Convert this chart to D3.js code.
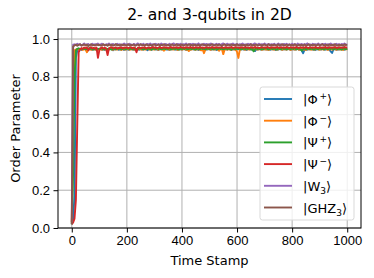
<!DOCTYPE html>
<html lang="en">
<head>
<meta charset="UTF-8">
<title>order parameter</title>
<script src="https://cdn.jsdelivr.net/npm/d3@7"></script>
<style>
	body { margin: 0; background: #fff; }
	svg { font-family: "DejaVu Sans", sans-serif; }
	.grid line { stroke: #b0b0b0; stroke-width: 1; }
	.axis line { stroke: #000; stroke-width: 1; }
	.axis text { font-size: 13px; fill: #000; }
</style>
</head>
<body>
<div id="viz"></div>
<script>
// time stamps sampled every 5 steps
var steps = d3.range(0, 1001, 5);

var phiPlus = [.02,.05,.17,.90,.94,.945,.948,.942,.946,.95,.944,.947,.941,.949,.945,.943,.948,.946,.94,.947,
	.945,.949,.943,.946,.942,.948,.945,.944,.95,.946,.941,.947,.945,.948,.943,.946,.944,.949,.942,.946,
	.947,.943,.945,.949,.944,.946,.942,.948,.945,.943,.947,.946,.944,.95,.945,.941,.947,.946,.943,.948,
	.945,.947,.944,.942,.948,.946,.945,.943,.949,.944,.946,.942,.947,.945,.948,.944,.946,.943,.947,.945,
	.944,.948,.946,.942,.947,.945,.943,.949,.946,.944,.947,.945,.942,.948,.946,.943,.945,.947,.944,.946,
	.948,.943,.946,.945,.947,.942,.946,.944,.948,.945,.943,.947,.946,.944,.949,.945,.942,.946,.947,.944,
	.946,.948,.943,.945,.947,.944,.946,.942,.948,.945,.946,.943,.947,.936,.946,.944,.948,.945,.943,.947,
	.945,.946,.944,.948,.943,.946,.945,.947,.942,.946,.944,.948,.945,.943,.947,.946,.944,.949,.945,.943,
	.946,.947,.944,.945,.948,.943,.946,.938,.925,.944,.946,.943,.947,.945,.948,.944,.946,.942,.947,.945,
	.946,.944,.948,.945,.943,.947,.946,.944,.935,.926,.945,.947,.943,.946,.944,.948,.945,.946,.943,.947,
	.948];

var phiMinus = [.03,.60,.94,.945,.947,.943,.948,.946,.942,.947,.944,.93,.946,.948,.943,.945,.947,.944,.946,.942,
	.948,.945,.943,.947,.946,.944,.937,.946,.948,.945,.943,.947,.946,.944,.948,.945,.942,.946,.947,.944,
	.946,.948,.943,.945,.947,.944,.946,.942,.948,.945,.946,.943,.947,.944,.946,.948,.945,.943,.947,.946,
	.944,.948,.945,.943,.947,.946,.944,.938,.946,.948,.945,.943,.947,.946,.944,.948,.945,.942,.946,.947,
	.944,.946,.948,.943,.945,.936,.946,.944,.948,.945,.943,.947,.946,.944,.94,.945,.925,.944,.946,.948,
	.945,.943,.947,.946,.944,.948,.945,.938,.946,.947,.92,.945,.946,.944,.948,.943,.945,.947,.944,.946,
	.932,.90,.944,.946,.948,.945,.943,.947,.946,.944,.948,.945,.942,.946,.947,.944,.946,.948,.943,.945,
	.947,.944,.946,.942,.948,.945,.946,.943,.947,.944,.946,.948,.945,.943,.947,.946,.944,.948,.945,.942,
	.946,.947,.944,.946,.948,.943,.945,.947,.944,.946,.942,.948,.945,.946,.943,.947,.944,.946,.948,.945,
	.943,.947,.946,.944,.948,.945,.942,.946,.947,.944,.946,.948,.943,.945,.947,.944,.946,.942,.948,.945,
	.946];

var psiPlus = [.02,.30,.80,.94,.948,.951,.946,.949,.947,.95,.945,.948,.951,.946,.949,.947,.944,.95,.948,.946,
	.949,.947,.951,.945,.948,.95,.946,.949,.947,.944,.95,.948,.946,.951,.947,.949,.945,.948,.95,.946,
	.948,.951,.946,.949,.947,.945,.95,.948,.946,.949,.951,.947,.945,.948,.95,.946,.949,.947,.944,.95,
	.948,.946,.951,.947,.949,.945,.948,.95,.946,.949,.947,.951,.945,.948,.95,.946,.949,.947,.944,.95,
	.946,.949,.947,.951,.945,.948,.95,.946,.949,.947,.944,.95,.948,.946,.951,.947,.949,.945,.948,.95,
	.946,.949,.947,.945,.95,.948,.946,.951,.947,.949,.945,.948,.95,.946,.949,.947,.944,.95,.948,.946,
	.951,.947,.949,.945,.948,.95,.946,.949,.947,.951,.945,.948,.935,.946,.949,.947,.95,.945,.948,.946,
	.949,.951,.947,.945,.948,.95,.946,.949,.947,.944,.95,.948,.946,.951,.947,.949,.945,.948,.95,.946,
	.949,.947,.951,.945,.948,.95,.946,.938,.947,.949,.945,.948,.95,.946,.949,.947,.944,.95,.948,.946,
	.951,.947,.949,.945,.948,.95,.946,.949,.947,.951,.945,.948,.95,.946,.949,.947,.944,.95,.948,.946,
	.949];

var psiMinus = [.02,.03,.05,.15,.55,.93,.945,.952,.948,.955,.951,.956,.94,.953,.957,.95,.954,.949,.955,.90,
	.94,.952,.956,.95,.954,.948,.915,.951,.955,.957,.95,.953,.956,.949,.954,.952,.957,.95,.955,.953,
	.956,.951,.954,.957,.95,.955,.952,.93,.954,.956,.951,.955,.953,.957,.95,.954,.956,.952,.955,.958,
	.953,.956,.951,.955,.958,.952,.954,.957,.953,.956,.951,.955,.958,.953,.956,.954,.957,.952,.955,.958,
	.954,.956,.952,.957,.955,.953,.958,.954,.956,.952,.957,.955,.953,.958,.954,.956,.951,.955,.957,.953,
	.956,.954,.958,.952,.955,.957,.953,.956,.954,.958,.952,.955,.957,.953,.956,.954,.958,.952,.955,.957,
	.954,.956,.952,.957,.955,.953,.958,.954,.956,.952,.957,.955,.953,.958,.954,.956,.952,.955,.957,.954,
	.956,.953,.958,.955,.952,.957,.954,.956,.953,.958,.955,.952,.957,.954,.956,.953,.958,.955,.952,.957,
	.954,.956,.953,.958,.955,.952,.957,.954,.956,.953,.958,.955,.952,.957,.954,.956,.953,.958,.955,.952,
	.957,.954,.956,.953,.958,.955,.952,.957,.954,.956,.953,.958,.955,.952,.957,.954,.956,.953,.958,.955,
	.956];

var w3 = [.03,.97,.972,.968,.975,.97,.973,.966,.971,.976,.969,.972,.974,.967,.971,.975,.969,.973,.97,.976,
	.968,.972,.975,.97,.967,.973,.971,.976,.969,.972,.974,.968,.971,.975,.97,.973,.967,.972,.976,.97,
	.973,.969,.975,.971,.968,.974,.97,.972,.977,.969,.973,.971,.975,.968,.972,.974,.97,.976,.969,.973,
	.971,.975,.968,.973,.97,.976,.972,.969,.974,.971,.967,.975,.97,.973,.977,.969,.972,.974,.97,.975,
	.968,.973,.971,.976,.969,.972,.974,.97,.975,.968,.973,.971,.977,.97,.972,.969,.975,.971,.974,.968,
	.973,.976,.97,.972,.969,.975,.971,.974,.968,.973,.977,.97,.972,.975,.969,.973,.971,.976,.97,.972,
	.974,.968,.973,.971,.976,.97,.972,.969,.975,.971,.974,.968,.973,.977,.97,.972,.975,.969,.973,.971,
	.976,.97,.972,.974,.968,.973,.971,.975,.969,.972,.976,.97,.973,.968,.974,.971,.975,.97,.972,.969,
	.975,.971,.973,.968,.976,.97,.972,.974,.969,.973,.971,.977,.97,.972,.968,.975,.971,.973,.97,.976,
	.969,.972,.974,.97,.975,.968,.973,.971,.976,.97,.972,.969,.975,.971,.973,.968,.974,.97,.976,.972,
	.97];

var ghz3 = [.02,.96,.966,.97,.964,.969,.972,.965,.968,.971,.966,.97,.963,.968,.972,.966,.969,.965,.971,.967,
	.97,.965,.968,.972,.966,.969,.964,.971,.967,.97,.965,.968,.973,.966,.969,.964,.971,.967,.97,.966,
	.968,.972,.965,.969,.967,.971,.964,.968,.97,.966,.972,.967,.969,.965,.971,.968,.966,.97,.964,.969,
	.972,.966,.968,.971,.965,.969,.967,.973,.966,.968,.97,.964,.969,.971,.966,.968,.972,.965,.969,.967,
	.971,.965,.968,.97,.966,.972,.967,.969,.964,.971,.968,.966,.97,.965,.969,.972,.967,.968,.965,.971,
	.966,.969,.972,.965,.968,.97,.966,.971,.967,.964,.969,.972,.966,.968,.97,.965,.971,.967,.969,.966,
	.972,.968,.965,.97,.967,.969,.964,.971,.966,.968,.972,.965,.969,.967,.971,.966,.968,.97,.964,.969,
	.971,.966,.968,.972,.965,.969,.967,.97,.966,.968,.971,.964,.969,.972,.966,.968,.97,.965,.971,.967,
	.969,.966,.972,.968,.965,.97,.967,.969,.964,.971,.966,.968,.972,.965,.969,.967,.97,.966,.968,.971,
	.965,.969,.972,.966,.968,.97,.964,.971,.967,.969,.966,.972,.968,.965,.97,.967,.969,.964,.971,.968,
	.97];

// legend labels: [base, script, position of script]
var labels = [
	["|\u03A6", "+", "sup"], ["|\u03A6", "\u2212", "sup"], ["|\u03A8", "+", "sup"],
	["|\u03A8", "\u2212", "sup"], ["|W", "3", "sub"], ["|GHZ", "3", "sub"]
];
var colors = ["#1f77b4", "#ff7f0e", "#2ca02c", "#d62728", "#9467bd", "#8c564b"];
var series = [phiPlus, phiMinus, psiPlus, psiMinus, w3, ghz3];

var xTicks = [0, 200, 400, 600, 800, 1000];
var yTicks = [0.0, 0.2, 0.4, 0.6, 0.8, 1.0];

var W = 374, H = 278;
var margin = {top: 29, right: 13, bottom: 50, left: 58};
var width = W - margin.left - margin.right;
var height = H - margin.top - margin.bottom;

var svg = d3.select("#viz").append("svg")
	.attr("width", W)
	.attr("height", H);

var g = svg.append("g")
	.attr("transform", "translate(" + margin.left + "," + margin.top + ")");

var x = d3.scaleLinear().domain([-50, 1050]).range([0, width]);
var y = d3.scaleLinear().domain([0, 1.053]).range([height, 0]);

// grid
g.append("g").attr("class", "grid")
	.selectAll("line").data(xTicks).enter().append("line")
	.attr("x1", d => x(d)).attr("x2", d => x(d))
	.attr("y1", 0).attr("y2", height);
g.append("g").attr("class", "grid")
	.selectAll("line").data(yTicks).enter().append("line")
	.attr("y1", d => y(d)).attr("y2", d => y(d))
	.attr("x1", 0).attr("x2", width);

g.append("clipPath").attr("id", "clip")
	.append("rect").attr("width", width).attr("height", height);

var line = d3.line()
	.x((d, i) => x(steps[i]))
	.y(d => y(d));

g.append("g").attr("clip-path", "url(#clip)")
	.selectAll("path").data(series).enter().append("path")
	.attr("d", line)
	.attr("fill", "none")
	.attr("stroke", (d, i) => colors[i])
	.attr("stroke-width", 1.9)
	.attr("stroke-linejoin", "round");

var xAxis = g.append("g").attr("class", "axis")
	.attr("transform", "translate(0," + height + ")")
	.call(d3.axisBottom(x).tickValues(xTicks).tickSize(4.5).tickPadding(3.5).tickFormat(d3.format("d")));
var yAxis = g.append("g").attr("class", "axis")
	.call(d3.axisLeft(y).tickValues(yTicks).tickSize(4.5).tickPadding(3.5).tickFormat(d3.format(".1f")));
xAxis.select(".domain").remove();
yAxis.select(".domain").remove();

// frame
g.append("rect")
	.attr("width", width).attr("height", height)
	.attr("fill", "none").attr("stroke", "#000").attr("stroke-width", 1);

svg.append("text")
	.attr("x", margin.left + width / 2).attr("y", 20)
	.attr("text-anchor", "middle")
	.style("font-size", "15.6px")
	.text("2- and 3-qubits in 2D");

svg.append("text")
	.attr("x", margin.left + width / 2).attr("y", 264.5)
	.attr("text-anchor", "middle")
	.style("font-size", "13px")
	.text("Time Stamp");

svg.append("text")
	.attr("transform", "translate(20," + (margin.top + height / 2) + ") rotate(-90)")
	.attr("text-anchor", "middle")
	.style("font-size", "13px")
	.text("Order Parameter");

// legend
var legend = svg.append("g").attr("transform", "translate(260,87)");
legend.append("rect")
	.attr("width", 94).attr("height", 133).attr("rx", 2.5)
	.attr("fill", "#fff").attr("fill-opacity", 0.8)
	.attr("stroke", "#d9d9d9").attr("stroke-width", 1);

var item = legend.selectAll(".item").data(labels).enter().append("g")
	.attr("transform", (d, i) => "translate(0," + (12 + i * 21.7) + ")");
item.append("line")
	.attr("x1", 4).attr("x2", 32)
	.attr("stroke", (d, i) => colors[i]).attr("stroke-width", 1.9);
var txt = item.append("text")
	.attr("x", 43).attr("y", 5)
	.style("font-size", "13px");
txt.append("tspan").text(d => d[0]);
txt.append("tspan")
	.attr("dy", d => d[2] === "sup" ? -5 : 3)
	.style("font-size", "9px")
	.text(d => d[2] === "sup" ? "\u2009" + d[1] : d[1]);
txt.append("tspan")
	.attr("dy", d => d[2] === "sup" ? 5 : -3)
	.text("\u27E9");
</script>
</body>
</html>
